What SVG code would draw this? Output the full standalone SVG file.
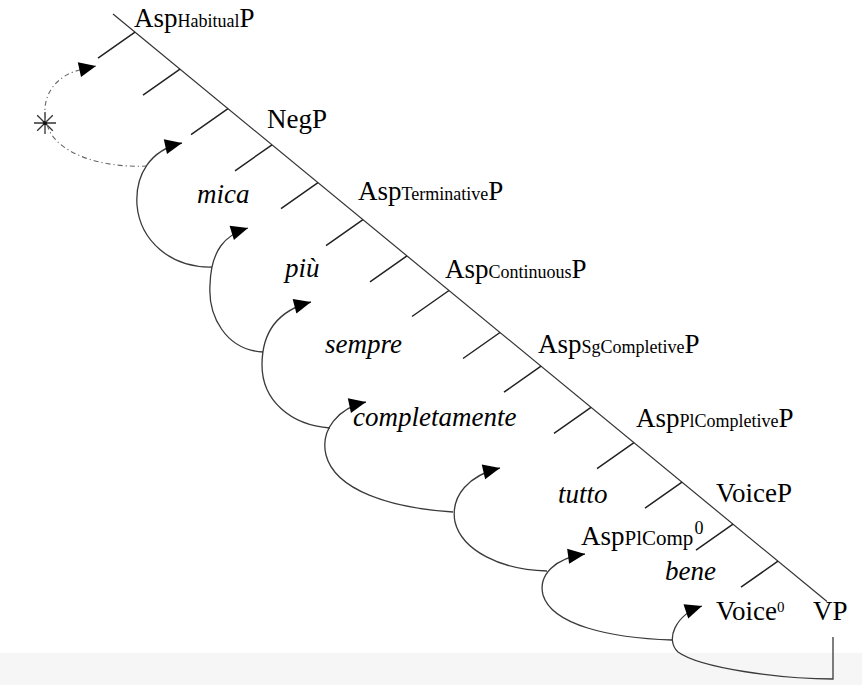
<svg xmlns="http://www.w3.org/2000/svg" width="862" height="685" viewBox="0 0 862 685">
<style>
.lbl{font-family:"Liberation Serif","Times New Roman",serif;font-size:27px;fill:#000}
.it{font-style:italic}
.sub{font-size:18px}
.tree{stroke:#333;stroke-width:1.2;fill:none}
.tick{stroke:#222;stroke-width:1.5;fill:none}
.arc{stroke:#3a3a3a;stroke-width:1.3;fill:none}
.dd{stroke:#666;stroke-width:1.1;fill:none;stroke-dasharray:5 3 1.2 3}
</style>
<defs>
<marker id="ah" markerUnits="userSpaceOnUse" markerWidth="18" markerHeight="16" refX="17" refY="7.5" orient="auto" overflow="visible">
<path d="M0,0 L17,7.5 L0,15 z" fill="#000"/>
</marker>
</defs>
<rect x="0" y="0" width="862" height="685" fill="#fff"/>
<rect x="0" y="653" width="862" height="32" fill="#f6f6f6"/>

<g id="tree">
<path class="tree" d="M113,14 L827,601.5"/>
<path class="tick" d="M135,32.1 l-37,26 M180,69.1 l-37,26 M228,108.6 l-37,26 M272,144.8 l-37,26 M318,182.7 l-37,26 M363,219.7 l-37,26 M407,255.9 l-37,26 M449,290.5 l-37,26 M500,332.5 l-37,26 M541,366.2 l-37,26 M591,407.3 l-37,26 M634,442.7 l-37,26 M682,482.2 l-37,26 M733,524.2 l-37,26 M778,561.2 l-37,26"/>
</g>

<g id="star">
<path d="M34,123 H56 M45,112 V134 M37.2,115.2 L52.8,130.8 M52.8,115.2 L37.2,130.8" stroke="#333" stroke-width="1.3" fill="none"/>
<circle cx="45" cy="123" r="2" fill="#111"/>
</g>

<g id="connectors">
<path class="dd" d="M147,166 C110,168 65,158 50,132 C40,112 45,90 62,78 C70,72 78,70 96,66" marker-end="url(#ah)"/>
<path class="arc" d="M212,267 C170,268 140,240 137,205 C135,175 150,150 182,143" marker-end="url(#ah)"/>
<path class="arc" d="M263,352 C225,350 208,315 210,285 C211,250 225,235 248,228" marker-end="url(#ah)"/>
<path class="arc" d="M330,428 C290,425 262,400 262,365 C262,330 280,310 311,302" marker-end="url(#ah)"/>
<path class="arc" d="M453,512 C390,508 335,490 326,455 C320,430 338,408 366,402" marker-end="url(#ah)"/>
<path class="arc" d="M547,571 C500,570 462,550 455,522 C450,495 470,475 500,468" marker-end="url(#ah)"/>
<path class="arc" d="M672,640 C610,638 552,625 543,595 C538,575 555,558 585,554" marker-end="url(#ah)"/>
<path class="arc" d="M833,637 L833,679 C780,679 700,668 678,652 C665,640 675,615 702,606" marker-end="url(#ah)"/>
</g>

<g id="AspHabitualP"><text class="lbl" x="134" y="27">Asp<tspan class="sub">Habitual</tspan>P</text></g>
<g id="NegP"><text class="lbl" x="267" y="128">NegP</text></g>
<g id="AspTerminativeP"><text class="lbl" x="358" y="200">Asp<tspan class="sub">Terminative</tspan>P</text></g>
<g id="AspContinuousP"><text class="lbl" x="445" y="278">Asp<tspan class="sub">Continuous</tspan>P</text></g>
<g id="AspSgCompletiveP"><text class="lbl" x="538" y="353">Asp<tspan class="sub">SgCompletive</tspan>P</text></g>
<g id="AspPlCompletiveP"><text class="lbl" x="636" y="427">Asp<tspan class="sub">PlCompletive</tspan>P</text></g>
<g id="VoiceP"><text class="lbl" x="716" y="502">VoiceP</text></g>
<g id="AspPlComp0"><text class="lbl" x="581" y="545">Asp<tspan class="sub" style="font-size:21px">PlComp</tspan><tspan class="sub" dx="1" dy="-11">0</tspan></text></g>
<g id="Voice0"><text class="lbl" x="716" y="620">Voice<tspan style="font-size:15px" dy="-8">0</tspan></text></g>
<g id="VP"><text class="lbl" x="813" y="620">VP</text></g>

<g id="mica"><text class="lbl it" x="197" y="203">mica</text></g>
<g id="piu"><text class="lbl it" x="285" y="277">più</text></g>
<g id="sempre"><text class="lbl it" x="325" y="353">sempre</text></g>
<g id="completamente"><text class="lbl it" x="353" y="426">completamente</text></g>
<g id="tutto"><text class="lbl it" x="558" y="503">tutto</text></g>
<g id="bene"><text class="lbl it" x="665" y="580">bene</text></g>
</svg>
